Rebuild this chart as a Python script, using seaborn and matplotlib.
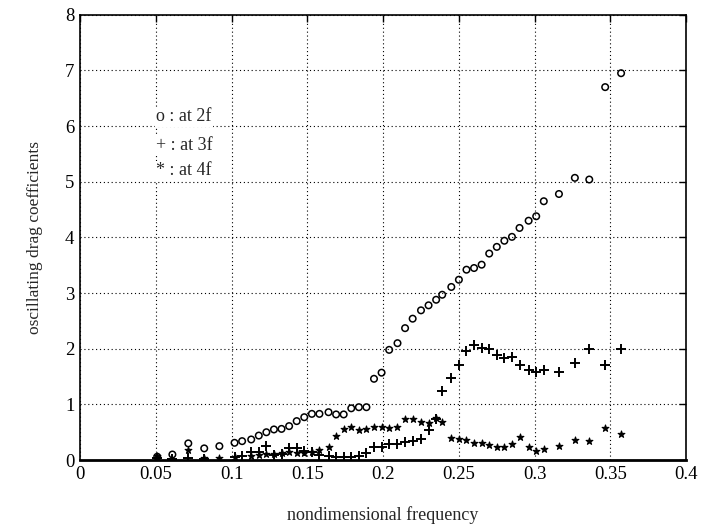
import matplotlib
matplotlib.use("Agg")
import matplotlib.pyplot as plt
import seaborn as sns
import pandas as pd

# ---- data ----
x_2f = [0.051, 0.061, 0.0715, 0.082, 0.092, 0.102, 0.107, 0.113, 0.118, 0.123,
        0.128, 0.133, 0.138, 0.143, 0.148, 0.153, 0.158, 0.164, 0.169, 0.174,
        0.179, 0.184, 0.189, 0.194, 0.199, 0.204, 0.2095, 0.2145, 0.2195, 0.225,
        0.230, 0.235, 0.239, 0.245, 0.250, 0.255, 0.260, 0.265, 0.270, 0.275,
        0.280, 0.285, 0.290, 0.296, 0.301, 0.306, 0.316, 0.3265, 0.336, 0.3465, 0.357]
y_2f = [0.06, 0.10, 0.30, 0.21, 0.25, 0.31, 0.34, 0.37, 0.44, 0.50,
        0.55, 0.56, 0.61, 0.70, 0.77, 0.83, 0.83, 0.86, 0.82, 0.82,
        0.93, 0.95, 0.95, 1.46, 1.57, 1.98, 2.10, 2.37, 2.54, 2.69,
        2.78, 2.88, 2.97, 3.11, 3.24, 3.42, 3.45, 3.51, 3.71, 3.83,
        3.94, 4.01, 4.17, 4.30, 4.38, 4.65, 4.78, 5.07, 5.04, 6.70, 6.95]

x_3f = [0.051, 0.061, 0.0715, 0.082, 0.102, 0.107, 0.113, 0.118, 0.123, 0.128,
        0.133, 0.138, 0.143, 0.148, 0.153, 0.158, 0.164, 0.169, 0.174, 0.179,
        0.184, 0.189, 0.194, 0.199, 0.204, 0.2095, 0.2145, 0.2195, 0.225, 0.230,
        0.235, 0.239, 0.245, 0.250, 0.255, 0.260, 0.265, 0.270, 0.275, 0.280,
        0.285, 0.290, 0.296, 0.301, 0.306, 0.316, 0.3265, 0.336, 0.3465, 0.357]
y_3f = [0.03, 0.02, 0.03, 0.02, 0.05, 0.07, 0.15, 0.15, 0.25, 0.10,
        0.11, 0.21, 0.22, 0.17, 0.15, 0.09, 0.07, 0.05, 0.05, 0.06,
        0.07, 0.12, 0.24, 0.24, 0.28, 0.28, 0.32, 0.34, 0.38, 0.54,
        0.74, 1.24, 1.47, 1.71, 1.96, 2.06, 2.02, 1.99, 1.89, 1.83,
        1.85, 1.70, 1.62, 1.58, 1.61, 1.58, 1.74, 2.00, 1.70, 2.00]

x_4f = [0.051, 0.0715, 0.082, 0.092, 0.102, 0.113, 0.118, 0.123, 0.128, 0.133,
        0.138, 0.143, 0.148, 0.153, 0.158, 0.164, 0.169, 0.174, 0.179, 0.184,
        0.189, 0.194, 0.199, 0.204, 0.2095, 0.2145, 0.2195, 0.225, 0.230, 0.235,
        0.239, 0.245, 0.250, 0.255, 0.260, 0.265, 0.270, 0.275, 0.280, 0.285,
        0.290, 0.296, 0.301, 0.306, 0.316, 0.3265, 0.336, 0.3465, 0.357]
y_4f = [0.07, 0.18, 0.03, 0.03, 0.05, 0.07, 0.09, 0.11, 0.11, 0.12,
        0.15, 0.13, 0.13, 0.15, 0.18, 0.24, 0.43, 0.56, 0.60, 0.54,
        0.55, 0.59, 0.60, 0.57, 0.59, 0.73, 0.73, 0.69, 0.66, 0.75,
        0.69, 0.39, 0.38, 0.36, 0.30, 0.30, 0.27, 0.24, 0.23, 0.28,
        0.42, 0.23, 0.17, 0.20, 0.26, 0.36, 0.35, 0.57, 0.47]

legend_labels = ["o : at 2f", "+ : at 3f", "* : at 4f"]
x_ticks = [0, 0.05, 0.1, 0.15, 0.2, 0.25, 0.3, 0.35, 0.4]
x_tick_labels = ["0", "0.05", "0.1", "0.15", "0.2", "0.25", "0.3", "0.35", "0.4"]
y_ticks = [0, 1, 2, 3, 4, 5, 6, 7, 8]

sns.set_style("white")
plt.rcParams["font.family"] = ["Liberation Serif", "DejaVu Serif"]

fig = plt.figure(figsize=(7.01, 5.27), dpi=100)
ax = fig.add_axes([0.114, 0.127, 0.865, 0.845])

df2 = pd.DataFrame({"f": x_2f, "c": y_2f})
df3 = pd.DataFrame({"f": x_3f, "c": y_3f})
df4 = pd.DataFrame({"f": x_4f, "c": y_4f})

sns.scatterplot(data=df2, x="f", y="c", ax=ax, marker="o", s=22,
                facecolor="none", edgecolor="black", linewidth=1.1, zorder=3)
sns.scatterplot(data=df3, x="f", y="c", ax=ax, marker="+", s=45,
                color="black", linewidth=1.4, zorder=3)
sns.scatterplot(data=df4, x="f", y="c", ax=ax, marker="*", s=26,
                color="black", edgecolor="black", linewidth=0.8, zorder=3)

ax.set_xlim(0, 0.4)
ax.set_ylim(0, 8)
ax.set_xticks(x_ticks)
ax.set_xticklabels(x_tick_labels)
ax.set_yticks(y_ticks)
ax.tick_params(direction="in", length=5, width=1, top=True, right=True,
               labelsize=13.5, pad=4, colors="black")
ax.grid(True, linestyle=(0, (1, 2.5)), color="black", linewidth=0.8)
ax.set_axisbelow(True)
for side, sp in ax.spines.items():
    sp.set_color("black")
    sp.set_linewidth(1.2)
ax.spines["bottom"].set_linewidth(2.0)

ax.set_xlabel("nondimensional frequency", fontsize=13, labelpad=17)
ax.set_ylabel("oscillating drag coefficients", fontsize=12.5, labelpad=16)

legend_y = [6.17, 5.65, 5.2]
for lab, yy in zip(legend_labels, legend_y):
    ax.text(0.0505, yy, lab, fontsize=13, va="center", ha="left",
            bbox=dict(facecolor="white", edgecolor="none", pad=1))

fig.savefig("out.png", dpi=100)
